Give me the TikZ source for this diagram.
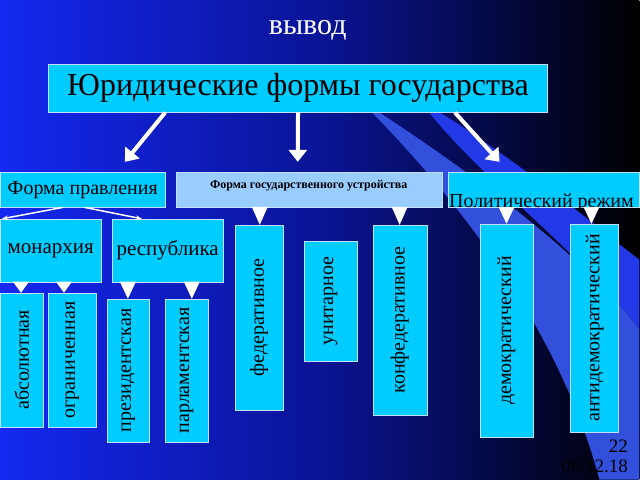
\documentclass[tikz,border=0pt]{standalone}
\usepackage{fontspec}
\setmainfont{Liberation Serif}
\usetikzlibrary{arrows.meta}
\definecolor{cy}{RGB}{0,204,255}
\definecolor{lb}{RGB}{153,204,255}
\definecolor{sw}{RGB}{50,80,220}
\tikzset{
 bx/.style={draw=lb!60!white,line width=0.6pt,fill=cy,inner sep=0pt},
 vt/.style={rotate=90,font=\fontsize{20}{20}\selectfont},
 tri/.style={fill=white},
 bigarr/.style={white,line width=4pt,-{Triangle[length=12pt,width=18pt]}},
 smarr/.style={white,line width=1.5pt,-{Stealth[length=6pt]}}
}
\newcommand{\mybox}[6]{\node[bx,minimum width=#3pt,minimum height=#4pt,anchor=north west] (#1) at (#2) {}; \node[vt] at ([xshift=#5pt]#1.center) {#6};}
\begin{document}
\begin{tikzpicture}[x=1pt,y=-1pt]
\shade[left color={rgb,255:red,20;green,40;blue,240},right color=black,middle color={rgb,255:red,10;green,20;blue,150}] (0,0) rectangle (640,480);
\fill[sw] (360,100) .. controls (470,170) and (590,260) .. (640,330) -- (640,480) -- (600,480) .. controls (560,330) and (460,200) .. (360,100) -- cycle;
\fill[sw!70!blue] (420,100) .. controls (520,160) and (600,230) .. (640,260) -- (640,330) .. controls (590,260) and (470,170) .. (420,100);
\node[white,font=\fontsize{30}{30}\selectfont] (t) at (308,30) {вывод};
\node[bx,minimum width=500pt,minimum height=48pt,anchor=north west,font=\fontsize{32}{32}\selectfont] (m) at (48,64) {Юридические формы государства};
\coordinate (a1) at (125,162); \coordinate (a2) at (298,162); \coordinate (a3) at (500,162);
\draw[bigarr] ([xshift=-133pt]m.south) -- (a1);
\draw[bigarr] ([xshift=0pt]m.south) -- (a2);
\draw[bigarr] ([xshift=157pt]m.south) -- (a3);
\node[bx,minimum width=165pt,minimum height=35pt,anchor=north west,font=\fontsize{20}{20}\selectfont] (fp) at (0,172) {Форма правления};
\node[bx,fill=lb,minimum width=266pt,minimum height=35pt,anchor=north west] (fu) at (176,172) {};
\node[font=\bfseries\fontsize{12}{12}\selectfont] at (309,186) {Форма государственного устройства};
\node[bx,minimum width=192pt,minimum height=35pt,anchor=north west] (pr) at (448,172) {};
\node[font=\fontsize{20}{20}\selectfont,anchor=base west] at (446,208) {Политический режим};
\node[bx,minimum width=101pt,minimum height=63pt,anchor=north west,font=\fontsize{21}{21}\selectfont] (mo) at (0,219) {монархия};
\node[bx,minimum width=111pt,minimum height=63pt,anchor=north west,font=\fontsize{21}{21}\selectfont] (re) at (112,219) {республика};
\coordinate (m1) at (2,219); \coordinate (r1) at (142,219);
\draw[smarr] ([xshift=-20pt]fp.south) -- (m1);
\draw[smarr] ([xshift=2pt]fp.south) -- (r1);
\mybox{ab}{0,293}{43}{134}{0}{абсолютная}
\mybox{og}{48,293}{48}{134}{0}{ограниченная}
\mybox{pz}{107,299}{42}{143}{0}{президентская}
\mybox{pa}{165,299}{43}{143}{0}{парламентская}
\mybox{fe}{235,225}{48}{185}{0}{федеративное}
\mybox{un}{304,241}{53}{120}{0}{унитарное}
\mybox{kf}{373,225}{54}{190}{0}{конфедеративное}
\mybox{de}{480,224}{53}{213}{0}{демократический}
\mybox{an}{571,224}{48}{208}{0}{антидемократический}
\foreach \x/\y/\b in {21/282/293,64/282/293,128/282/299,192/282/299,260/207/225,400/207/225,507/207/224,592/207/224}
  \fill[tri] (\x-8,\y) -- (\x+8,\y) -- (\x,\b) -- cycle;
\node[font=\fontsize{19}{19}\selectfont,anchor=east] (n1) at (632,447) {22};
\node[font=\fontsize{19}{19}\selectfont,anchor=east] (n2) at (632,467) {06.12.18};
\end{tikzpicture}
\end{document}
